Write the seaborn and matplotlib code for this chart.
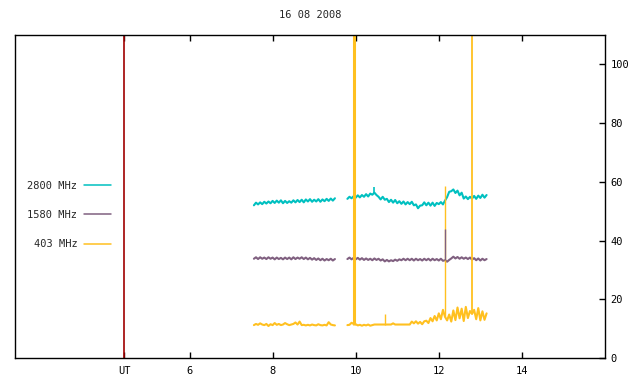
import pandas as pd
import matplotlib
matplotlib.use("Agg")
import matplotlib.pyplot as plt
import seaborn as sns
from matplotlib.lines import Line2D

# sample times (UT hours), two observing runs
t_a = [7.55, 7.60, 7.65, 7.70, 7.75, 7.80, 7.85, 7.90, 7.95, 8.00,
       8.05, 8.10, 8.15, 8.20, 8.25, 8.30, 8.35, 8.40, 8.45, 8.50,
       8.55, 8.60, 8.65, 8.70, 8.75, 8.80, 8.85, 8.90, 8.95, 9.00,
       9.05, 9.10, 9.15, 9.20, 9.25, 9.30, 9.35, 9.40, 9.45, 9.50]
t_b = [9.80, 9.85, 9.90, 9.95, 10.00, 10.05, 10.10, 10.15, 10.20, 10.25,
       10.30, 10.35, 10.40, 10.45, 10.50, 10.55, 10.60, 10.65, 10.70, 10.75,
       10.80, 10.85, 10.90, 10.95, 11.00, 11.05, 11.10, 11.15, 11.20, 11.25,
       11.30, 11.35, 11.40, 11.45, 11.50, 11.55, 11.60, 11.65, 11.70, 11.75,
       11.80, 11.85, 11.90, 11.95, 12.00, 12.05, 12.10, 12.15, 12.20, 12.25,
       12.30, 12.35, 12.40, 12.45, 12.50, 12.55, 12.60, 12.65, 12.70, 12.75,
       12.80, 12.85, 12.90, 12.95, 13.00, 13.05, 13.10, 13.15]

f2800_a = [52.0, 52.9, 52.3, 53.0, 52.4, 53.2, 52.6, 53.3, 52.7, 53.5,
           52.8, 53.6, 52.9, 53.7, 52.7, 53.5, 52.8, 53.4, 52.9, 53.7,
           53.0, 53.8, 53.1, 53.9, 53.0, 54.0, 53.3, 54.1, 53.2, 53.9,
           53.3, 54.1, 53.2, 54.0, 53.4, 54.2, 53.5, 54.3, 53.6, 54.4]
f2800_b = [54.2, 54.9, 54.4, 55.1, 54.6, 55.4, 54.7, 55.5, 54.9, 55.8,
           55.0, 56.0, 55.6, 56.3, 55.5, 54.9, 54.0, 54.9, 53.9, 54.2,
           53.1, 53.9, 52.9, 53.8, 52.7, 53.4, 52.5, 53.3, 52.3, 53.1,
           52.4, 53.2, 52.0, 52.3, 51.0, 51.9, 52.0, 53.0, 52.0, 52.9,
           51.9, 52.9, 51.8, 52.8, 52.4, 53.1, 52.3, 53.6, 54.8, 56.6,
           56.8, 57.4, 56.2, 57.0, 55.4, 56.3, 54.3, 55.0, 54.1, 54.9,
           54.3, 55.2, 54.2, 55.3, 54.5, 55.6, 54.6, 55.5]

f1580_a = [33.8, 34.3, 33.7, 34.3, 33.8, 34.2, 33.7, 34.3, 33.8, 34.2,
           33.6, 34.2, 33.7, 34.1, 33.6, 34.2, 33.7, 34.2, 33.6, 34.3,
           33.7, 34.2, 33.8, 34.3, 33.7, 34.2, 33.6, 34.1, 33.5, 34.0,
           33.4, 33.9, 33.3, 33.8, 33.2, 33.7, 33.3, 33.8, 33.2, 33.7]
f1580_b = [33.7, 34.2, 33.6, 34.1, 33.6, 34.1, 33.5, 34.0, 33.4, 33.9,
           33.4, 33.8, 33.3, 33.9, 33.4, 33.8, 33.2, 33.6, 32.9, 33.4,
           32.9, 33.3, 33.0, 33.5, 33.1, 33.6, 33.3, 33.8, 33.3, 33.8,
           33.3, 33.8, 33.2, 33.8, 33.3, 33.7, 33.2, 33.8, 33.3, 33.8,
           33.2, 33.8, 33.3, 33.7, 33.2, 33.8, 33.1, 33.3, 32.8, 33.4,
           33.9, 34.5, 33.9, 34.4, 33.8, 34.3, 33.8, 34.2, 33.7, 34.2,
           33.5, 34.0, 33.3, 33.9, 33.2, 33.8, 33.3, 33.7]

f403_a = [11.2, 11.6, 11.3, 11.8, 11.4, 11.2, 11.6, 10.9, 11.5, 11.2,
          11.9, 11.3, 11.6, 11.2, 11.4, 11.9, 11.5, 11.2, 11.4, 11.6,
          12.1, 11.4, 12.4, 11.2, 11.3, 11.1, 11.3, 11.1, 11.4, 11.2,
          11.1, 11.5, 11.2, 11.1, 11.3, 11.1, 12.2, 11.4, 11.2, 11.1]
f403_b = [11.2, 11.3, 12.0, 11.6, 11.5, 11.1, 11.3, 11.0, 11.3, 11.1,
          11.4, 11.0, 11.2, 11.4, 11.4, 11.4, 11.4, 11.4, 11.4, 11.4,
          11.4, 11.4, 11.8, 11.4, 11.4, 11.4, 11.4, 11.4, 11.4, 11.4,
          11.4, 12.4, 11.8, 12.5, 11.7, 12.3, 11.5, 12.5, 12.7, 11.9,
          13.6, 12.5, 14.3, 12.8, 15.2, 13.2, 16.4, 14.0, 12.8, 14.8,
          12.4, 16.2, 12.9, 17.2, 13.5, 16.8, 12.6, 17.4, 13.6, 16.0,
          15.0, 16.4, 13.2, 17.0, 12.8, 15.9, 13.0, 15.2]

# single-sample bursts (time, base, peak); 200 = off scale
spikes_2800 = [(9.99, 55.0, 58.4), (10.45, 56.0, 58.3)]
spikes_1580 = [(12.15, 33.3, 44.1)]
spikes_403 = [(9.95, 11.4, 200.0), (10.70, 11.4, 14.9),
              (12.15, 14.0, 58.6), (12.80, 15.0, 200.0)]
spike_width_403 = [2.2, 1.0, 1.0, 1.3]

bands = ["2800 MHz", "1580 MHz", "403 MHz"]
colors = ["#00c0c0", "#806080", "#ffc020"]
ut_mark = 4.435
xticks = [6, 8, 10, 12, 14]
yticks = [0, 20, 40, 60, 80, 100]

rows = []
for band, va, vb in [(bands[0], f2800_a, f2800_b),
                     (bands[1], f1580_a, f1580_b),
                     (bands[2], f403_a, f403_b)]:
    for t, v in zip(t_a, va):
        rows.append((band, "a", t, v))
    for t, v in zip(t_b, vb):
        rows.append((band, "b", t, v))
df = pd.DataFrame(rows, columns=["band", "seg", "t", "flux"])

sns.set_theme(style="white")
plt.rcParams["font.family"] = ["DejaVu Sans Mono"]

fig = plt.figure(figsize=(6.4, 3.84), dpi=100)
ax = fig.add_axes([15 / 640, 26 / 384, 590 / 640, 323 / 384])

ax.axvline(ut_mark, color="#a00000", lw=1.2)
sns.lineplot(data=df, x="t", y="flux", hue="band", units="seg",
             estimator=None, palette=dict(zip(bands, colors)),
             hue_order=bands, lw=1.5, legend=False, ax=ax)

for (t, lo, hi) in spikes_2800:
    ax.vlines(t, lo, hi, color=colors[0], lw=1.2)
for (t, lo, hi), w in zip(spikes_403, spike_width_403):
    ax.vlines(t, lo, hi, color=colors[2], lw=w)
for (t, lo, hi) in spikes_1580:
    ax.vlines(t, lo, hi, color=colors[1], lw=1.0)

ax.set_xlim(1.8, 16)
ax.set_ylim(0, 110)
ax.set_xticks([ut_mark] + xticks)
ax.set_xticklabels(["UT"] + [str(x) for x in xticks])
ax.set_yticks(yticks)
ax.yaxis.tick_right()
ax.tick_params(axis="x", direction="in", top=True, bottom=True,
               length=4, width=1, labelsize=7.5, pad=6, colors="black")
ax.tick_params(axis="y", direction="in", right=True, left=False,
               length=4, width=1, labelsize=7.5, pad=4, colors="black")
ax.set_xlabel("")
ax.set_ylabel("")
for s in ax.spines.values():
    s.set_color("black")
    s.set_linewidth(1)
ax.set_title("16 08 2008", fontsize=7.5, pad=12)

handles = [Line2D([], [], color=c, lw=1.1) for c in colors]
ax.legend(handles, bands, loc="upper left", bbox_to_anchor=(0.005, 0.578),
          markerfirst=False, frameon=False, fontsize=7.5,
          handlelength=2.6, handletextpad=0.6, labelspacing=1.85)

fig.savefig("out.png", dpi=100)
